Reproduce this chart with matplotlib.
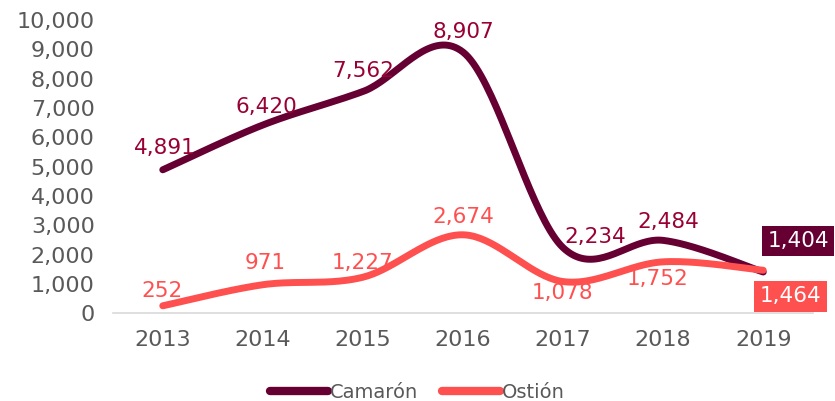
import matplotlib.pyplot as plt
import numpy as np
from matplotlib.lines import Line2D

years = ["2013", "2014", "2015", "2016", "2017", "2018", "2019"]
camaron = [4891, 6420, 7562, 8907, 2234, 2484, 1404]
ostion = [252, 971, 1227, 2674, 1078, 1752, 1464]

# label offsets in pixels (dx, dy) from each point
cam_off = [(2, 22), (4, 18), (0, 21), (0, 20), (32, 11), (5, 18), (35, 31)]
ost_off = [(-1, 15), (2, 22), (0, 14), (0, 18), (-1, -11), (-6, -17), (27, -26)]

c_cam = "#660033"
c_cam_lbl = "#990033"
c_ost = "#FF5050"
gray = "#595959"

plt.rcParams["font.family"] = ["DejaVu Sans"]


def smooth(y, n=40):
    # Catmull-Rom style bezier smoothing, like Excel's smoothed lines
    y = np.asarray(y, dtype=float)
    x = np.arange(len(y), dtype=float)
    px = np.concatenate([[x[0]], x, [x[-1]]])
    py = np.concatenate([[y[0]], y, [y[-1]]])
    xs, ys = [], []
    t = np.linspace(0, 1, n)
    for i in range(1, len(px) - 2):
        p0 = np.array([px[i], py[i]])
        p3 = np.array([px[i + 1], py[i + 1]])
        b1 = p0 + (p3 - np.array([px[i - 1], py[i - 1]])) / 6
        b2 = p3 - (np.array([px[i + 2], py[i + 2]]) - p0) / 6
        pts = ((1 - t) ** 3)[:, None] * p0 + (3 * (1 - t) ** 2 * t)[:, None] * b1 \
            + (3 * (1 - t) * t ** 2)[:, None] * b2 + (t ** 3)[:, None] * p3
        xs.extend(pts[:, 0])
        ys.extend(pts[:, 1])
    return np.array(xs), np.array(ys)


fig = plt.figure(figsize=(8.35, 4.01), dpi=100)
ax = fig.add_axes([0.135, 0.219, 0.839, 0.731])

x = np.arange(len(years))
for vals, col in [(camaron, c_cam), (ostion, c_ost)]:
    sx, sy = smooth(vals)
    ax.plot(sx, sy, color=col, lw=5, solid_capstyle="round", clip_on=False)

for i, (v, (dx, dy)) in enumerate(zip(camaron, cam_off)):
    last = i == len(camaron) - 1
    ax.annotate(f"{v:,}", xy=(x[i], v), xytext=(dx, dy), textcoords="offset pixels",
                ha="center", va="center", fontsize=15.5,
                color="white" if last else c_cam_lbl,
                bbox=dict(boxstyle="square,pad=0.25", fc=c_cam, ec="none") if last else None)

for i, (v, (dx, dy)) in enumerate(zip(ostion, ost_off)):
    last = i == len(ostion) - 1
    ax.annotate(f"{v:,}", xy=(x[i], v), xytext=(dx, dy), textcoords="offset pixels",
                ha="center", va="center", fontsize=15.5,
                color="white" if last else c_ost,
                bbox=dict(boxstyle="square,pad=0.25", fc=c_ost, ec="none") if last else None)

ax.set_xlim(-0.5, len(years) - 0.5)
ax.set_ylim(0, 10000)
ax.set_xticks(x)
ax.set_xticklabels(years)
ax.set_yticks(np.arange(0, 10001, 1000))
ax.yaxis.set_major_formatter(plt.FuncFormatter(lambda v, p: f"{int(v):,}"))
ax.tick_params(axis="both", length=0, labelsize=16, colors=gray)
ax.tick_params(axis="y", pad=13)
ax.tick_params(axis="x", pad=12)

ax.spines[["left", "top", "right"]].set_visible(False)
ax.spines["bottom"].set_color("#D9D9D9")
ax.spines["bottom"].set_linewidth(1.2)

handles = [Line2D([], [], color=c_cam, lw=6, solid_capstyle="round"),
           Line2D([], [], color=c_ost, lw=6, solid_capstyle="round")]
fig.legend(handles, ["Camarón", "Ostión"], loc="center", bbox_to_anchor=(0.5, 0.022),
           ncol=2, frameon=False, fontsize=14, handlelength=3, handletextpad=0.1,
           columnspacing=1.2, labelcolor=gray)

fig.savefig("out.png", dpi=100)
